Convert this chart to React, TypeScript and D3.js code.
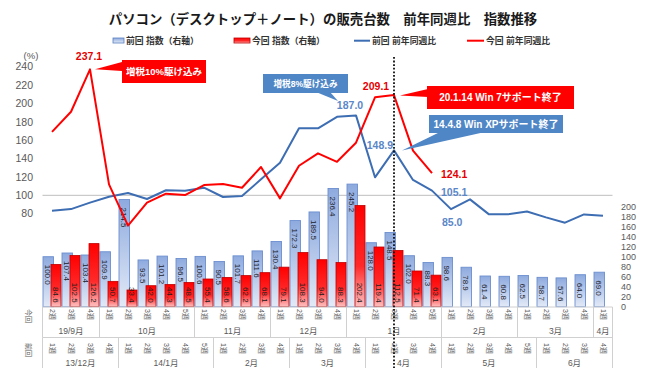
import * as d3 from 'd3';
import React from 'react';

// 今回 (this time) week labels and month groups
const nowWeeks = ['2週', '3週', '4週', '1週', '2週', '3週', '4週', '5週', '1週', '2週', '3週', '4週', '1週', '2週', '3週', '4週', '1週', '2週', '3週', '4週', '5週', '1週', '2週', '3週', '4週', '1週', '2週', '3週', '4週', '1週'];
const nowMonths = ['19/9月', '10月', '11月', '12月', '1月', '2月', '3月', '4月'];
const nowMonthSpans = [3, 5, 4, 4, 5, 4, 4, 1];

// 前回 (previous time) week labels and month groups
const prevWeeks = ['1週', '2週', '3週', '4週', '1週', '2週', '3週', '4週', '5週', '1週', '2週', '3週', '4週', '1週', '2週', '3週', '4週', '1週', '2週', '3週', '4週', '1週', '2週', '3週', '4週', '5週', '1週', '2週', '3週', '4週'];
const prevMonths = ['13/12月', '14/1月', '2月', '3月', '4月', '5月', '6月'];
const prevMonthSpans = [4, 5, 4, 4, 4, 5, 4];

// index (right axis)
const prevIndex = [100.0, 107.4, 103.4, 109.9, 214.5, 93.5, 101.2, 96.5, 100.6, 90.5, 101.7, 111.6, 130.4, 172.3, 189.5, 236.4, 245.2, 128.0, 148.5, 102.0, 88.3, 98.6, 78.9, 61.4, 60.8, 62.5, 58.7, 57.6, 64.0, 69.0];
const nowIndex = [84.6, 102.5, 126.2, 50.7, 33.4, 42.0, 44.3, 48.5, 55.4, 58.6, 62.2, 68.1, 79.1, 108.3, 94.0, 88.3, 202.4, 119.4, 112.5, 71.4, 63.1];

// year-on-year ratio (left axis)
const prevYoY = [83.3, 85.0, 92.0, 98.5, 102.5, 96.0, 105.5, 105.0, 108.3, 98.2, 99.3, 117.4, 135.5, 172.9, 172.9, 185.5, 187.0, 119.6, 148.9, 116.7, 105.1, 85.0, 95.6, 79.3, 79.3, 82.4, 76.0, 70.2, 79.2, 77.9];
const nowYoY = [169.0, 191.0, 237.1, 112.0, 67.0, 92.0, 101.8, 100.3, 111.2, 112.3, 108.3, 130.8, 96.7, 132.2, 145.7, 136.5, 157.3, 206.7, 209.1, 148.6, 124.1];

const leftTicks = [80, 100, 120, 140, 160, 180, 200, 220, 240];
const rightTicks = [0, 20, 40, 60, 80, 100, 120, 140, 160, 180, 200];

const FONT = "'Liberation Sans', 'Noto Sans CJK JP', sans-serif";
const AXIS = '#595959';
const BLUE_LINE = '#3d6db3';
const RED = '#ff0000';
const BLUE_BOX = '#4f86c6';
const BLUE_LABEL = '#5b87c8';

const groups = (spans: number[]) => {
  let s = 0;
  return spans.map(n => { const g = { start: s, n }; s += n; return g; });
};

export default function App() {
  const W = 650, H = 387;
  const x = d3.scaleBand<number>().domain(d3.range(prevWeeks.length)).range([42.5, 612.5]);
  const bw = x.bandwidth();
  const cx = (i: number) => (x(i) as number) + bw / 2;
  const yL = d3.scaleLinear().domain([80, 240]).range([213.7, 66.7]);
  const yR = d3.scaleLinear().domain([0, 200]).range([306.7, 206.7]);

  const line = d3.line<number>().x((d, i) => cx(i)).y(d => yL(d));

  const row1Top = 307, row1Bot = 337.5, row2Bot = 368;
  const markIdx = 18;

  return (
    <svg width={W} height={H} style={{ position: 'absolute', left: 0, top: 0, background: '#fff' }} fontFamily={FONT}>
      <defs>
        <linearGradient id="gBlue" x1="0" y1="0" x2="0" y2="1">
          <stop offset="0" stopColor="#8eaade" />
          <stop offset="1" stopColor="#e3eaf7" />
        </linearGradient>
        <linearGradient id="gRed" x1="0" y1="0" x2="0" y2="1">
          <stop offset="0" stopColor="#ff0000" />
          <stop offset="0.6" stopColor="#ff2a2a" />
          <stop offset="1" stopColor="#ffc0c0" />
        </linearGradient>
      </defs>

      {/* title */}
      <text x={323} y={24} textAnchor="middle" fontSize={13.4} fontWeight="bold" fill="#1a1a1a">
        パソコン（デスクトップ＋ノート）の販売台数　前年同週比　指数推移
      </text>

      {/* legend */}
      <g fontSize={8.8} fontWeight="bold" fill="#333">
        <rect x={113} y={38} width={11} height={5} fill="url(#gBlue)" stroke="#5b7fc0" strokeWidth={0.8} />
        <text x={126} y={44}>前回 指数（右軸）</text>
        <rect x={234} y={38} width={16} height={5} fill="url(#gRed)" stroke="#c00000" strokeWidth={0.8} />
        <text x={252} y={44}>今回 指数（右軸）</text>
        <line x1={354} x2={370} y1={40.7} y2={40.7} stroke={BLUE_LINE} strokeWidth={2} />
        <text x={372} y={44}>前回 前年同週比</text>
        <line x1={467} x2={484} y1={40.7} y2={40.7} stroke={RED} strokeWidth={2} />
        <text x={486} y={44}>今回 前年同週比</text>
      </g>

      {/* left axis */}
      <text x={31} y={59} textAnchor="middle" fontSize={9.5} fill={AXIS}>(%)</text>
      {leftTicks.map(t => (
        <text key={t} x={33} y={yL(t)} dy="0.35em" textAnchor="end" fontSize={10.5} fill={AXIS}>{t}</text>
      ))}
      {/* right axis */}
      {rightTicks.map(t => (
        <text key={t} x={621} y={yR(t)} dy="0.35em" textAnchor="start" fontSize={9} fill={AXIS}>{t}</text>
      ))}

      {/* 100% reference line */}
      <line x1={42.5} x2={612.5} y1={yL(100)} y2={yL(100)} stroke="#bfbfbf" strokeWidth={1} />

      {/* bars */}
      {prevIndex.map((v, i) => (
        <rect key={'b' + i} x={(x(i) as number) + 0.5} y={yR(v)} width={10.5} height={yR(0) - yR(v)}
          fill="url(#gBlue)" stroke="#6d8fcf" strokeWidth={0.9} />
      ))}
      {nowIndex.map((v, i) => (
        <rect key={'r' + i} x={(x(i) as number) + 8.5} y={yR(v)} width={10} height={yR(0) - yR(v)}
          fill="url(#gRed)" stroke="#c00000" strokeWidth={0.8} />
      ))}
      {prevIndex.map((v, i) => (
        <text key={'bl' + i} transform={`translate(${(x(i) as number) + 5.75},${yR(v) + 8}) rotate(90)`}
          dy="0.35em" fontSize={8} fill="#1c1c2c">{v.toFixed(1)}</text>
      ))}
      {nowIndex.map((v, i) => (
        <text key={'rl' + i} transform={`translate(${(x(i) as number) + 13.5},${yR(0) - 4}) rotate(90)`}
          dy="0.35em" textAnchor="end" fontSize={8} fill="#1c1c1c">{v.toFixed(1)}</text>
      ))}

      {/* lines */}
      <path d={line(prevYoY) || ''} fill="none" stroke={BLUE_LINE} strokeWidth={2} strokeLinejoin="round" />
      <path d={line(nowYoY) || ''} fill="none" stroke={RED} strokeWidth={2} strokeLinejoin="round" />

      {/* category axis */}
      <g stroke="#d0d0d0" strokeWidth={1}>
        <line x1={42.5} x2={612.5} y1={row1Top} y2={row1Top} />
        <line x1={42.5} x2={612.5} y1={row1Bot} y2={row1Bot} />
        {groups(nowMonthSpans).map((g, k) => (
          <line key={'d1' + k} x1={x(g.start) as number} x2={x(g.start) as number} y1={row1Top} y2={row1Bot} />
        ))}
        <line x1={612.5} x2={612.5} y1={row1Top} y2={row2Bot} />
        {groups(prevMonthSpans).map((g, k) => (
          <line key={'d2' + k} x1={x(g.start) as number} x2={x(g.start) as number} y1={row1Bot} y2={row2Bot} />
        ))}
      </g>
      <g fontSize={7} fill={AXIS}>
        {nowWeeks.map((w, i) => (
          <text key={'w1' + i} transform={`translate(${cx(i)},${309}) rotate(90)`} dy="0.35em">{w}</text>
        ))}
        {prevWeeks.map((w, i) => (
          <text key={'w2' + i} transform={`translate(${cx(i)},${343}) rotate(90)`} dy="0.35em">{w}</text>
        ))}
        <text transform="translate(28,309) rotate(90)" dy="0.35em">今回</text>
        <text transform="translate(28,343) rotate(90)" dy="0.35em">前回</text>
      </g>
      <g fontSize={8.5} fill={AXIS} textAnchor="middle">
        {groups(nowMonthSpans).map((g, k) => (
          <text key={'m1' + k} x={(x(g.start) as number) + g.n * bw / 2} y={334}>{nowMonths[k]}</text>
        ))}
        {groups(prevMonthSpans).map((g, k) => (
          <text key={'m2' + k} x={(x(g.start) as number) + g.n * bw / 2} y={366}>{prevMonths[k]}</text>
        ))}
      </g>

      {/* marker line */}
      <line x1={cx(markIdx)} x2={cx(markIdx)} y1={57} y2={368} stroke="#111" strokeWidth={1.8} strokeDasharray="1.8,1.8" />

      {/* callouts */}
      <polygon points={`122,62 ${cx(2) + 5},${yL(237.1)} 122,71`} fill={RED} />
      <rect x={122} y={60} width={84} height={23} fill={RED} />
      <text x={164} y={72} dy="0.35em" textAnchor="middle" fontSize={9.5} fontWeight="bold" fill="#fff">増税10%駆け込み</text>

      <polygon points={`316,92 ${cx(16) - 18},101 330,92`} fill={BLUE_BOX} />
      <rect x={263} y={74} width={85} height={19} fill={BLUE_BOX} />
      <text x={305.5} y={83.5} dy="0.35em" textAnchor="middle" fontSize={8.6} fontWeight="bold" fill="#fff">増税8%駆け込み</text>

      <polygon points={`428,89 ${cx(18) + 6},${yL(209.1) + 0.5} 428,97`} fill={RED} />
      <rect x={427} y={86} width={147} height={23} fill={RED} />
      <text x={500.5} y={97.5} dy="0.35em" textAnchor="middle" fontSize={10} fontWeight="bold" fill="#fff">20.1.14  Win 7サポート終了</text>

      <polygon points={`440,132 ${cx(18) + 8},${yL(148.9)} 485,132`} fill={BLUE_BOX} />
      <rect x={429} y={115} width={134} height={18} fill={BLUE_BOX} />
      <text x={496} y={124} dy="0.35em" textAnchor="middle" fontSize={10} fontWeight="bold" fill="#fff">14.4.8  Win XPサポート終了</text>

      {/* value labels */}
      <g fontSize={10.5} fontWeight="bold">
        <text x={cx(2) - 1} y={yL(237.1) - 9} textAnchor="middle" fill="#e60000">237.1</text>
        <text x={cx(18) - 18} y={yL(209.1) - 5} textAnchor="middle" fill="#e60000">209.1</text>
        <text x={cx(20) + 9} y={yL(124.1) + 1.5} dy="0.35em" fill="#e60000">124.1</text>
        <text x={cx(16) - 6} y={yL(187.0) - 10} dy="0.35em" textAnchor="middle" fill={BLUE_LABEL}>187.0</text>
        <text x={cx(18) - 1} y={yL(148.9) - 5} dy="0.35em" textAnchor="end" fill={BLUE_LABEL}>148.9</text>
        <text x={cx(20) + 9} y={yL(105.1) + 1.5} dy="0.35em" fill={BLUE_LABEL}>105.1</text>
        <text x={cx(21) - 9} y={yL(85.0) + 13.5} dy="0.35em" fill={BLUE_LABEL}>85.0</text>
      </g>
    </svg>
  );
}
